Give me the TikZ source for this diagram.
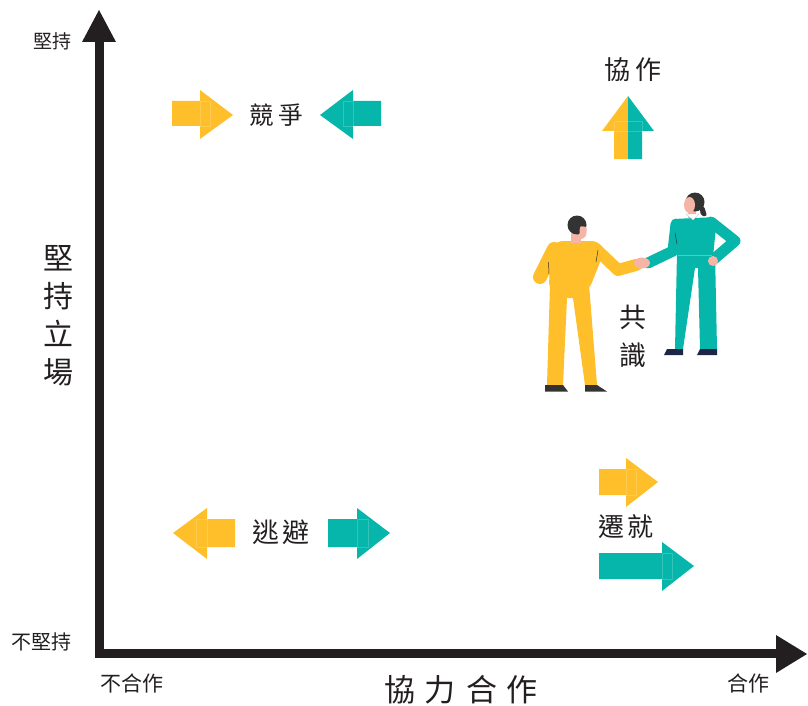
\documentclass[tikz,border=0pt]{standalone}
\usepackage{fontspec}
\setmainfont{Noto Sans CJK TC}
\definecolor{yel}{HTML}{FEBF2B}
\definecolor{tea}{HTML}{07B6AA}
\definecolor{ink}{HTML}{231F20}
\definecolor{skin}{HTML}{F6B4A6}
\definecolor{hair}{HTML}{333333}
\definecolor{navy}{HTML}{1C2747}
\newcommand\sz[1]{\fontsize{#1}{#1}\selectfont}
\begin{document}
\begin{tikzpicture}[x=1pt,y=-1pt,
  lab/.style={inner sep=0pt,text=ink},
  seam/.style={draw=white,draw opacity=0.18,line width=0.6pt},
  limb/.style={line width=#1,line cap=round,line join=round}]
\useasboundingbox (0,0) rectangle (808,706);

% axes
\coordinate (O) at (99.5,653.5);
\coordinate (ytop) at (99.5,42);
\coordinate (xend) at (776,653.5);
\draw[ink,line width=9pt] (99.5,657) -- (ytop);
\draw[ink,line width=9pt] (95,653.5) -- (xend);
\fill[ink] (82,42) -- (99,10) -- (116,42) -- cycle;
\fill[ink] (776,635) -- (807,654) -- (776,673) -- cycle;

% axis labels
\node[lab,font=\sz{19}] (yhi) at (52,41) {堅持};
\node[lab,font=\sz{20}] (ylo) at (42,642) {不堅持};
\node[lab,font=\sz{21}] (xlo) at (132,683) {不合作};
\node[lab,font=\sz{21}] (xhi) at (748,683) {合作};
\node[lab,font=\sz{31}] (xtitle) at (461,690) {協\kern10pt力\kern10pt合\kern10pt作};
\node[lab,font=\fontsize{30}{38}\selectfont,align=center] (ytitle) at (58,316) {堅\\持\\立\\場};

% competing
\fill[yel] (172,101) -- (200,101) -- (200,90) -- (233,115) -- (200,139) -- (200,126) -- (172,126) -- cycle;
\draw[seam] (200,101) rectangle (210,126);
\fill[tea] (381,101) -- (353,101) -- (353,90) -- (320,115) -- (353,139) -- (353,126) -- (381,126) -- cycle;
\draw[seam] (353,101) rectangle (343,126);
\node[lab,font=\sz{24.5}] (compete) at (276,115) {競\kern5pt爭};

% collaborating
\node[lab,font=\sz{26}] (collab) at (633,70) {協\kern6pt作};
\fill[yel] (628,96) -- (602,131) -- (614,131) -- (614,159) -- (628,159) -- cycle;
\fill[tea] (628,96) -- (654,131) -- (642,131) -- (642,159) -- (628,159) -- cycle;
\draw[seam] (614,131) rectangle (642,121);

% avoiding
\fill[yel] (235,519) -- (207,519) -- (207,508) -- (173,533) -- (207,559) -- (207,547) -- (235,547) -- cycle;
\draw[seam] (207,519) rectangle (196,547);
\fill[tea] (328,519) -- (357,519) -- (357,508) -- (390,533) -- (357,559) -- (357,547) -- (328,547) -- cycle;
\draw[seam] (357,519) rectangle (368,547);
\node[lab,font=\sz{27}] (avoid) at (281,532) {逃\kern3pt避};

% accommodating
\fill[yel] (599,469) -- (626,469) -- (626,458) -- (658,482) -- (626,507) -- (626,495) -- (599,495) -- cycle;
\draw[seam] (626,469) rectangle (636,495);
\fill[tea] (599,553) -- (662,553) -- (662,542) -- (694,566) -- (662,591) -- (662,579) -- (599,579) -- cycle;
\draw[seam] (662,553) rectangle (672,579);
\node[lab,font=\sz{26}] (accom) at (626,527) {遷\kern3pt就};

% man, yellow
\fill[yel] (550,284) -- (589,284) -- (597,385) -- (585,385) -- (573,298) -- (567,298) -- (563,385) -- (547,385) -- cycle;
\fill[yel,rounded corners=7pt] (549,290) -- (550,250) -- (556,241) -- (599,241) -- (604,252) -- (589,290) -- cycle;
\draw[yel,limb=14pt] (554,249) -- (540,277);
\draw[yel,limb=12pt] (596,249) -- (618,270) -- (636,265);
\draw[hair,line width=0.5pt] (548.5,262) -- (549,274);
\draw[hair,line width=0.5pt] (598,250) -- (596,262);
\fill[skin] (571,231) rectangle (581,243);
\fill[hair] (577,225) circle (9.5);
\fill[skin,rounded corners=2pt] (580,226) -- (587,227) -- (586,237) -- (579,240) -- cycle;
\fill[hair] (545,385) -- (563,385) -- (568,391.5) -- (545,391.5) -- cycle;
\fill[hair] (585,385) -- (597,385) -- (607,391.5) -- (585,391.5) -- cycle;

% woman, teal
\fill[tea] (677,252) -- (715,252) -- (717,349) -- (700,349) -- (698,268) -- (695,268) -- (683,349) -- (675,349) -- cycle;
\fill[tea,rounded corners=6pt] (673,219) -- (717,217) -- (713,257) -- (677,257) -- cycle;
\draw[tea,limb=11pt] (676,224) -- (673,251) -- (648,263);
\draw[tea,limb=11pt] (711,222) -- (735,241) -- (714,259);
\draw[white,opacity=0.3,line width=0.6pt] (678,255) -- (712,255);
\draw[hair,line width=0.5pt] (675,233) -- (677,244);
\fill[skin] (713,261) circle (5);
\fill[skin] (642,263) ellipse (8 and 5.5);
\fill[skin] (688,208) rectangle (696,218);
\fill[hair] (695,202) circle (9.5);
\fill[hair,rounded corners=2pt] (699,204) -- (704,206) -- (707,216) -- (701,216) -- cycle;
\fill[skin] (689.5,205) ellipse (5.5 and 8);
\filldraw[fill=white,draw=gray!50,line width=0.3pt] (686,214) -- (699,214) -- (693,220) -- cycle;
\fill[navy] (667,349) -- (683,349) -- (683,355) -- (664,355) -- cycle;
\fill[navy] (700,349) -- (717,349) -- (717,355) -- (697,355) -- cycle;

\node[lab,font=\fontsize{27}{38}\selectfont,align=center] (agree) at (633,336) {共\\識};
\end{tikzpicture}
\end{document}
